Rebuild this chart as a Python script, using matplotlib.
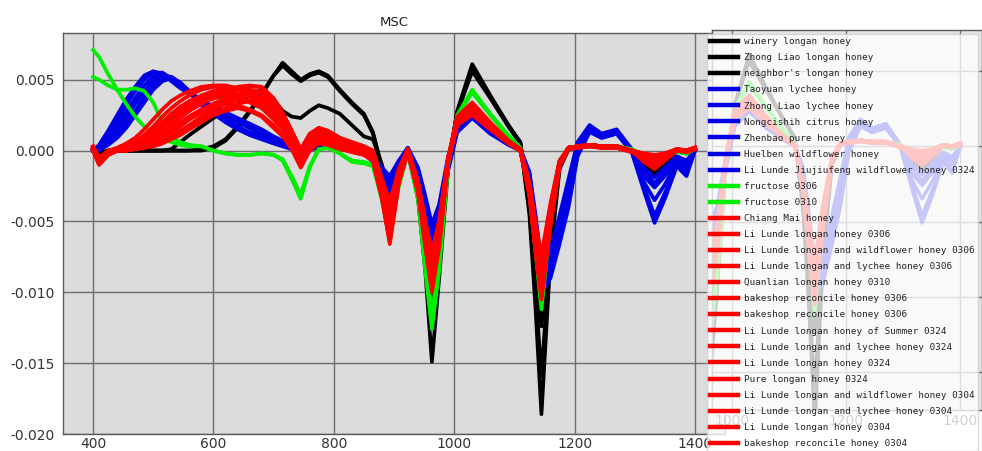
"""
MSC-corrected spectra of honey / fructose samples, with the legend panel
laid over a faded copy of the 950-1440 region (as in the original screenshot).
"""

import matplotlib
matplotlib.use("Agg")
import matplotlib.pyplot as plt

plt.rcParams["axes.unicode_minus"] = False

# wavenumber grid shared by every spectrum
WAVENUMBER = [400, 410, 425, 440, 455, 470, 485, 500, 515, 530, 545, 560, 580, 600, 620,
              640, 660, 680, 700, 715, 730, 745, 760, 775, 790, 810, 830, 850, 865, 880,
              893, 908, 923, 940, 952, 963, 975, 990, 1005, 1030, 1060, 1090, 1110, 1125, 1135,
              1145, 1160, 1175, 1190, 1205, 1225, 1245, 1270, 1295, 1315, 1333, 1350, 1370, 1386, 1400]

# values are in units of 1e-3
BLACK_LABELS = ["winery longan honey", "Zhong Liao longan honey", "neighbor's longan honey"]
BLACK_SPECTRA = [
    [0.1, -0.2, 0.0, 0.0, 0.0, 0.0, 0.0, 0.0, 0.0, 0.0, 0.0, 0.0, 0.0, 0.2, 0.7, 1.6, 2.7, 3.9, 5.3, 6.2, 5.6, 5.0, 5.4, 5.6, 5.3, 4.3, 3.4, 2.6, 1.3, -1.2,
     -4.2, -1.8, -0.1, -3.4, -8.5, -14.9, -9.0, -1.2, 2.8, 6.1, 3.9, 1.8, 0.6, -4.5, -11.0, -18.6, -7.5, -1.3, 0.1, 0.3, 0.4, 0.3, 0.3, 0.0, -1.0, -1.6, -0.9, 0.0, -0.2, 0.1],
    [0.1, -0.2, 0.0, 0.0, 0.0, 0.0, 0.0, 0.0, 0.0, 0.0, 0.0, 0.0, 0.1, 0.3, 0.8, 1.7, 2.8, 4.0, 5.3, 6.0, 5.4, 4.9, 5.3, 5.5, 5.2, 4.2, 3.3, 2.5, 1.2, -1.3,
     -4.0, -1.7, -0.1, -3.0, -7.2, -11.0, -7.4, -1.0, 2.7, 5.6, 3.7, 1.7, 0.5, -4.2, -9.8, -15.9, -6.8, -1.2, 0.1, 0.3, 0.4, 0.3, 0.3, 0.0, -0.9, -1.4, -0.8, 0.0, -0.2, 0.1],
    [0.1, -0.2, 0.0, 0.0, 0.0, 0.0, 0.0, 0.0, 0.0, 0.1, 0.6, 1.1, 1.7, 2.3, 2.8, 3.3, 3.9, 4.3, 3.6, 2.8, 2.4, 2.3, 2.8, 3.2, 3.0, 2.6, 1.8, 1.0, 0.8, -1.0,
     -3.2, -1.4, 0.0, -2.9, -6.8, -10.5, -7.0, -0.9, 2.6, 5.8, 3.8, 1.8, 0.5, -3.8, -8.2, -12.4, -5.8, -1.0, 0.1, 0.3, 0.4, 0.3, 0.3, 0.0, -0.7, -1.2, -0.7, 0.0, -0.1, 0.1],
]

BLUE_LABELS = ["Taoyuan lychee honey", "Zhong Liao lychee honey", "Nongcishih citrus honey",
               "Zhenbao pure honey", "Huelben wildflower honey",
               "Li Lunde Jiujiufeng wildflower honey 0324"]
BLUE_SPECTRA = [
    [0.0, 0.4, 1.4, 2.5, 3.6, 4.5, 5.3, 5.6, 5.4, 4.9, 4.4, 4.0, 3.5, 2.9, 2.4, 2.0, 1.6, 1.2, 0.8, 0.5, 0.3, 0.1, 0.2, 0.3, 0.3, 0.3, 0.2, 0.0, -0.4, -1.2,
     -1.8, -0.7, 0.2, -1.2, -3.2, -5.2, -3.8, -0.4, 1.8, 2.6, 1.4, 0.6, 0.1, -1.5, -4.5, -8.0, -7.0, -4.6, -2.0, 0.6, 1.8, 1.2, 1.5, 0.1, -1.2, -1.9, -1.2, -0.4, -0.7, 0.0],
    [0.0, 0.3, 1.1, 2.1, 3.2, 4.2, 5.0, 5.5, 5.5, 5.0, 4.5, 4.1, 3.6, 3.1, 2.7, 2.3, 1.9, 1.5, 1.0, 0.7, 0.4, 0.2, 0.2, 0.3, 0.3, 0.3, 0.2, 0.0, -0.5, -1.3,
     -2.0, -0.8, 0.2, -1.4, -3.6, -5.6, -4.2, -0.6, 1.7, 2.5, 1.4, 0.6, 0.1, -1.6, -4.8, -8.4, -7.4, -5.0, -2.4, 0.4, 1.7, 1.1, 1.4, 0.1, -1.4, -2.3, -1.5, -0.5, -0.8, 0.0],
    [0.0, 0.2, 0.9, 1.7, 2.7, 3.7, 4.6, 5.2, 5.5, 5.1, 4.6, 4.1, 3.5, 2.8, 2.2, 1.7, 1.3, 1.0, 0.7, 0.4, 0.2, 0.1, 0.2, 0.3, 0.3, 0.2, 0.1, -0.1, -0.6, -1.5,
     -2.3, -0.9, 0.1, -1.6, -4.0, -6.1, -4.6, -0.8, 1.6, 2.4, 1.3, 0.5, 0.1, -1.7, -5.0, -8.8, -7.8, -5.4, -2.8, 0.2, 1.6, 1.0, 1.3, 0.0, -1.8, -2.6, -1.8, -0.6, -1.0, 0.0],
    [0.0, 0.1, 0.7, 1.4, 2.3, 3.3, 4.2, 4.9, 5.3, 5.2, 4.7, 4.2, 3.4, 2.9, 2.5, 2.1, 1.7, 1.2, 0.8, 0.5, 0.3, 0.1, 0.2, 0.3, 0.3, 0.3, 0.2, 0.0, -0.5, -1.4,
     -2.6, -1.0, 0.1, -1.8, -4.4, -6.6, -5.0, -1.0, 1.5, 2.5, 1.3, 0.5, 0.0, -1.8, -5.3, -9.2, -8.2, -5.8, -3.2, 0.0, 1.5, 1.0, 1.3, 0.0, -2.2, -3.5, -2.4, -0.8, -1.3, 0.0],
    [0.0, 0.1, 0.5, 1.1, 1.9, 2.8, 3.8, 4.6, 5.1, 5.2, 4.8, 4.2, 3.3, 2.7, 2.1, 1.6, 1.2, 0.9, 0.6, 0.4, 0.2, 0.1, 0.1, 0.2, 0.2, 0.2, 0.1, -0.1, -0.7, -1.6,
     -2.9, -1.1, 0.1, -2.0, -4.8, -7.1, -5.4, -1.2, 1.4, 2.4, 1.2, 0.5, 0.0, -1.9, -5.6, -9.6, -8.6, -6.2, -3.6, -0.2, 1.4, 0.9, 1.2, -0.1, -2.5, -4.6, -3.0, -1.0, -1.6, 0.0],
    [0.0, 0.0, 0.4, 0.9, 1.6, 2.5, 3.4, 4.3, 4.9, 5.1, 4.8, 4.1, 3.2, 2.6, 2.0, 1.5, 1.1, 0.8, 0.5, 0.3, 0.1, 0.0, 0.1, 0.2, 0.2, 0.2, 0.1, -0.2, -0.8, -1.8,
     -3.2, -1.2, 0.0, -2.2, -5.2, -7.6, -5.8, -1.4, 1.3, 2.3, 1.2, 0.4, 0.0, -2.0, -6.0, -10.0, -9.0, -6.6, -4.0, -0.4, 1.3, 0.9, 1.2, -0.1, -2.8, -5.1, -3.4, -1.1, -1.8, 0.0],
]

GREEN_LABELS = ["fructose 0306", "fructose 0310"]
GREEN_SPECTRA = [
    [7.1, 6.6, 5.4, 4.3, 3.3, 2.4, 1.7, 1.2, 0.8, 0.6, 0.4, 0.3, 0.3, 0.0, -0.2, -0.3, -0.3, -0.2, -0.3, -0.7, -2.0, -3.4, -1.2, 0.1, 0.2, -0.2, -0.8, -0.9, -1.1, -3.5,
     -6.3, -2.5, -0.1, -3.5, -8.5, -12.6, -8.5, -1.0, 2.5, 4.3, 2.6, 1.1, 0.2, -3.0, -7.0, -11.2, -5.0, -0.8, 0.2, 0.3, 0.4, 0.3, 0.3, 0.1, -0.4, -0.7, -0.4, -0.1, -0.2, 0.1],
    [5.2, 5.0, 4.6, 4.3, 4.3, 4.4, 4.2, 3.4, 2.0, 1.0, 0.6, 0.4, 0.3, 0.0, -0.2, -0.3, -0.3, -0.2, -0.3, -0.6, -1.8, -3.1, -1.1, 0.1, 0.2, -0.2, -0.7, -0.8, -1.0, -3.3,
     -6.0, -2.4, -0.1, -3.2, -7.8, -11.5, -7.8, -0.9, 2.4, 4.1, 2.5, 1.0, 0.2, -2.8, -6.5, -10.5, -4.7, -0.7, 0.2, 0.3, 0.4, 0.3, 0.3, 0.1, -0.3, -0.6, -0.3, -0.1, -0.2, 0.1],
]

RED_LABELS = ["Chiang Mai honey", "Li Lunde longan honey 0306",
              "Li Lunde longan and wildflower honey 0306", "Li Lunde longan and lychee honey 0306",
              "Quanlian longan honey 0310", "bakeshop reconcile honey 0306",
              "bakeshop reconcile honey 0306", "Li Lunde longan honey of Summer 0324",
              "Li Lunde longan and lychee honey 0324", "Li Lunde longan honey 0324",
              "Pure longan honey 0324", "Li Lunde longan and wildflower honey 0304",
              "Li Lunde longan and lychee honey 0304", "Li Lunde longan honey 0304",
              "bakeshop reconcile honey 0304"]
RED_SPECTRA = [
    [0.3, -0.5, 0.0, 0.2, 0.5, 0.9, 1.5, 2.2, 2.9, 3.5, 3.9, 4.2, 4.5, 4.6, 4.6, 4.4, 4.0, 3.5, 2.6, 1.8, 0.9, 0.0, 1.1, 1.6, 1.4, 0.9, 0.6, 0.3, 0.0, -2.0,
     -3.6, -1.3, 0.1, -2.2, -4.9, -7.2, -4.9, -0.5, 2.4, 3.4, 2.0, 0.7, 0.1, -2.2, -5.0, -7.4, -3.7, -0.7, 0.2, 0.3, 0.4, 0.3, 0.3, 0.0, -0.2, -0.3, -0.2, 0.1, 0.0, 0.2],
    [0.2, -0.6, -0.1, 0.1, 0.3, 0.6, 1.1, 1.7, 2.4, 3.0, 3.5, 3.9, 4.3, 4.5, 4.5, 4.4, 4.1, 3.7, 2.9, 2.1, 1.1, 0.0, 1.0, 1.5, 1.3, 0.8, 0.5, 0.3, -0.1, -2.2,
     -4.0, -1.4, 0.1, -2.3, -5.2, -7.6, -5.2, -0.5, 2.2, 3.2, 1.9, 0.7, 0.1, -2.4, -5.4, -8.0, -4.0, -0.8, 0.2, 0.3, 0.4, 0.3, 0.3, 0.0, -0.3, -0.5, -0.3, 0.1, 0.0, 0.2],
    [0.2, -0.7, -0.1, 0.1, 0.2, 0.5, 0.9, 1.4, 2.0, 2.6, 3.1, 3.5, 3.9, 4.2, 4.4, 4.4, 4.2, 3.8, 3.0, 2.2, 1.2, -0.1, 0.9, 1.4, 1.2, 0.7, 0.4, 0.2, -0.2, -2.4,
     -4.4, -1.5, 0.1, -2.4, -5.4, -8.0, -5.4, -0.6, 2.3, 3.3, 1.9, 0.7, 0.1, -2.5, -5.7, -8.4, -4.2, -0.8, 0.2, 0.3, 0.4, 0.3, 0.3, 0.0, -0.2, -0.4, -0.2, 0.1, 0.0, 0.2],
    [0.3, -0.6, -0.1, 0.1, 0.2, 0.4, 0.7, 1.1, 1.6, 2.1, 2.6, 3.1, 3.6, 4.0, 4.3, 4.5, 4.6, 4.5, 3.6, 2.6, 1.4, 0.1, 1.2, 1.6, 1.4, 0.9, 0.6, 0.3, 0.0, -2.0,
     -3.8, -1.3, 0.1, -2.2, -5.0, -7.4, -5.0, -0.5, 2.1, 3.0, 1.7, 0.7, 0.1, -2.3, -5.3, -7.8, -3.9, -0.8, 0.2, 0.3, 0.4, 0.3, 0.3, 0.0, -0.4, -0.6, -0.3, 0.1, 0.0, 0.2],
    [0.2, -0.7, -0.2, 0.0, 0.1, 0.3, 0.5, 0.9, 1.3, 1.8, 2.3, 2.8, 3.3, 3.7, 4.1, 4.3, 4.5, 4.5, 3.7, 2.7, 1.4, 0.0, 1.1, 1.5, 1.3, 0.8, 0.5, 0.2, -0.1, -2.3,
     -4.6, -1.6, 0.0, -2.5, -5.6, -8.3, -5.6, -0.6, 2.2, 3.1, 1.8, 0.7, 0.1, -2.6, -6.0, -8.8, -4.4, -0.9, 0.2, 0.3, 0.4, 0.3, 0.3, 0.0, -0.5, -0.8, -0.4, 0.1, 0.0, 0.2],
    [0.1, -0.8, -0.2, 0.0, 0.2, 0.4, 0.8, 1.2, 1.8, 2.3, 2.8, 3.2, 3.7, 4.0, 4.2, 4.3, 4.3, 4.0, 3.2, 2.3, 1.2, -0.2, 0.9, 1.3, 1.1, 0.6, 0.3, 0.1, -0.3, -2.6,
     -5.0, -1.8, 0.0, -2.6, -5.8, -8.6, -5.8, -0.6, 2.0, 2.9, 1.7, 0.6, 0.0, -2.7, -6.1, -9.0, -4.5, -0.9, 0.2, 0.3, 0.4, 0.3, 0.3, 0.0, -0.4, -0.7, -0.4, 0.1, 0.0, 0.2],
    [0.2, -0.7, -0.2, 0.1, 0.2, 0.5, 0.9, 1.4, 1.9, 2.4, 2.9, 3.3, 3.7, 3.9, 4.0, 4.0, 3.8, 3.4, 2.6, 1.8, 0.9, -0.3, 0.8, 1.2, 1.0, 0.6, 0.3, 0.0, -0.3, -2.8,
     -5.4, -1.9, 0.0, -2.7, -6.1, -8.9, -6.1, -0.7, 2.1, 3.0, 1.7, 0.7, 0.0, -2.8, -6.3, -9.3, -4.7, -0.9, 0.2, 0.3, 0.4, 0.3, 0.3, 0.0, -0.5, -0.9, -0.5, 0.1, 0.0, 0.2],
    [0.1, -0.8, -0.2, 0.0, 0.1, 0.2, 0.4, 0.7, 1.0, 1.4, 1.9, 2.4, 2.9, 3.3, 3.7, 4.0, 4.2, 4.2, 3.3, 2.3, 1.0, -0.5, 0.6, 1.1, 0.9, 0.5, 0.2, 0.0, -0.4, -2.9,
     -4.2, -1.5, 0.1, -2.3, -5.3, -7.8, -5.3, -0.5, 2.0, 2.8, 1.6, 0.6, 0.0, -2.6, -5.8, -8.6, -4.3, -0.9, 0.2, 0.3, 0.4, 0.3, 0.3, 0.0, -0.6, -1.0, -0.6, 0.1, 0.0, 0.2],
    [0.2, -0.8, -0.2, 0.0, 0.2, 0.5, 0.8, 1.2, 1.7, 2.2, 2.7, 3.1, 3.5, 3.7, 3.8, 3.7, 3.4, 3.0, 2.2, 1.5, 0.6, -0.6, 0.5, 1.0, 0.8, 0.4, 0.2, -0.1, -0.5, -3.0,
     -5.8, -2.0, 0.0, -2.8, -6.3, -9.2, -6.3, -0.7, 1.9, 2.7, 1.6, 0.6, 0.0, -2.9, -6.5, -9.6, -4.8, -1.0, 0.2, 0.3, 0.4, 0.3, 0.3, 0.0, -0.4, -0.6, -0.3, 0.1, 0.0, 0.2],
    [0.1, -0.9, -0.3, 0.0, 0.1, 0.2, 0.4, 0.7, 1.1, 1.5, 2.0, 2.4, 2.9, 3.3, 3.6, 3.8, 3.9, 3.7, 2.9, 2.0, 0.8, -0.7, 0.4, 0.9, 0.7, 0.3, 0.1, -0.1, -0.5, -3.1,
     -6.0, -2.1, 0.0, -2.8, -6.4, -9.4, -6.4, -0.7, 2.0, 2.9, 1.7, 0.6, 0.0, -3.0, -6.7, -9.9, -5.0, -1.0, 0.2, 0.3, 0.4, 0.3, 0.3, 0.0, -0.7, -1.1, -0.6, 0.1, 0.0, 0.2],
    [0.1, -0.8, -0.3, 0.0, 0.1, 0.1, 0.2, 0.4, 0.7, 1.0, 1.4, 1.8, 2.4, 2.9, 3.3, 3.6, 3.9, 4.0, 3.4, 2.4, 1.0, -0.6, 0.5, 1.0, 0.8, 0.4, 0.1, -0.1, -0.5, -3.0,
     -4.8, -1.7, 0.0, -2.5, -5.7, -8.4, -5.7, -0.6, 2.2, 3.1, 1.8, 0.7, 0.0, -2.7, -6.1, -9.0, -4.5, -0.9, 0.2, 0.3, 0.4, 0.3, 0.3, 0.0, -0.7, -1.2, -0.7, 0.1, 0.0, 0.2],
    [0.1, -0.9, -0.3, 0.0, 0.0, 0.2, 0.3, 0.6, 0.9, 1.3, 1.7, 2.2, 2.7, 3.1, 3.4, 3.6, 3.5, 3.2, 2.4, 1.6, 0.6, -0.8, 0.3, 0.8, 0.6, 0.3, 0.0, -0.2, -0.6, -3.2,
     -6.2, -2.2, -0.1, -2.9, -6.5, -9.6, -6.5, -0.7, 1.8, 2.6, 1.5, 0.6, 0.0, -3.0, -6.9, -10.1, -5.1, -1.0, 0.1, 0.2, 0.3, 0.2, 0.2, -0.1, -0.5, -0.8, -0.4, 0.0, -0.1, 0.1],
    [0.0, -1.0, -0.3, 0.0, 0.0, 0.1, 0.2, 0.4, 0.7, 1.0, 1.3, 1.7, 2.2, 2.6, 3.0, 3.3, 3.5, 3.4, 2.6, 1.7, 0.5, -1.0, 0.2, 0.7, 0.5, 0.2, 0.0, -0.2, -0.6, -3.3,
     -5.2, -1.8, 0.0, -2.7, -6.1, -9.0, -6.1, -0.6, 2.0, 2.8, 1.6, 0.6, 0.0, -2.9, -6.5, -9.5, -4.8, -1.0, 0.2, 0.3, 0.4, 0.3, 0.3, 0.0, -0.8, -1.3, -0.7, 0.0, -0.1, 0.1],
    [0.1, -0.9, -0.3, 0.0, 0.1, 0.2, 0.4, 0.7, 1.0, 1.4, 1.9, 2.3, 2.8, 3.1, 3.3, 3.2, 2.9, 2.5, 1.8, 1.1, 0.2, -1.1, 0.1, 0.6, 0.5, 0.2, -0.1, -0.3, -0.7, -3.4,
     -6.4, -2.2, -0.1, -2.9, -6.7, -9.8, -6.7, -0.8, 1.8, 2.5, 1.5, 0.5, 0.0, -3.1, -7.0, -10.3, -5.2, -1.1, 0.1, 0.2, 0.3, 0.2, 0.2, -0.1, -0.5, -0.9, -0.5, 0.0, -0.1, 0.1],
    [0.0, -1.0, -0.3, 0.0, 0.0, 0.1, 0.2, 0.3, 0.5, 0.8, 1.1, 1.5, 2.0, 2.5, 2.8, 3.0, 2.8, 2.4, 1.6, 1.0, 0.1, -1.2, 0.0, 0.5, 0.4, 0.1, -0.1, -0.3, -0.7, -3.4,
     -6.6, -2.3, -0.1, -3.0, -6.8, -10.0, -6.8, -0.8, 1.8, 2.6, 1.5, 0.5, 0.0, -3.2, -7.1, -10.5, -5.3, -1.1, 0.1, 0.2, 0.3, 0.2, 0.2, -0.1, -0.6, -1.0, -0.6, 0.0, -0.1, 0.1],
]

GROUPS = [
    (BLACK_LABELS, BLACK_SPECTRA, "black"),
    (BLUE_LABELS, BLUE_SPECTRA, "#0000e6"),
    (GREEN_LABELS, GREEN_SPECTRA, "#00ee00"),
    (RED_LABELS, RED_SPECTRA, "#ff0000"),
]

BG = "#dcdcdc"
GRID = "#6e6e6e"


def draw_spectra(ax, lw):
    for labels, spectra, color in GROUPS:
        for label, spec in zip(labels, spectra):
            ax.plot(WAVENUMBER, [v * 1e-3 for v in spec], color=color, linewidth=lw, label=label)


def style_axes(ax):
    ax.set_facecolor(BG)
    ax.grid(True, color=GRID, linewidth=1.0)
    ax.set_axisbelow(True)
    for sp in ax.spines.values():
        sp.set_color("#5a5a5a")
        sp.set_linewidth(1.0)
    ax.tick_params(length=0, labelsize=10, colors="#333333")


fig = plt.figure(figsize=(9.82, 4.51), dpi=100)

ax = fig.add_axes([63 / 982, 17 / 451, 662 / 982, 401 / 451])
style_axes(ax)
ax.tick_params(axis="x", pad=2)
ax.tick_params(axis="y", pad=6)
draw_spectra(ax, 2.7)
ax.set_xlim(350, 1450)
ax.set_ylim(-0.020, 0.0083)
ax.set_xticks([400, 600, 800, 1000, 1200, 1400])
ax.set_yticks([-0.020, -0.015, -0.010, -0.005, 0.0, 0.005])
ax.yaxis.set_major_formatter(plt.FuncFormatter(lambda y, _: f"{y:.3f}"))
ax.set_title("MSC", fontsize=9.5, pad=5, color="#222222")

# faded copy of the right part of the spectra behind the legend
ax2 = fig.add_axes([712 / 982, 41 / 451, 270 / 982, 380 / 451])
style_axes(ax2)
ax2.set_facecolor("#e4e4e4")
draw_spectra(ax2, 2.4)
ax2.set_xlim(965, 1438)
ax2.set_ylim(-0.0175, 0.0077)
ax2.set_xticks([1000, 1200, 1400])
ax2.set_yticks([-0.015, -0.010, -0.005, 0.0, 0.005])
ax2.tick_params(labelleft=False, labelsize=10, pad=3)

handles, labels = ax.get_legend_handles_labels()
leg = fig.legend(handles, labels, loc="upper left", bbox_to_anchor=(707 / 982, 1 - 34 / 451),
                 borderaxespad=0, prop={"family": "DejaVu Sans Mono", "size": 6.7},
                 handlelength=3.0, handletextpad=0.65, labelspacing=0.76, borderpad=0.35,
                 frameon=True, fancybox=False, framealpha=0.78, facecolor="white",
                 edgecolor="#d0d0d0", labelcolor="#222222")
for line in leg.get_lines():
    line.set_linewidth(3.2)

fig.savefig("out.png", dpi=100)
